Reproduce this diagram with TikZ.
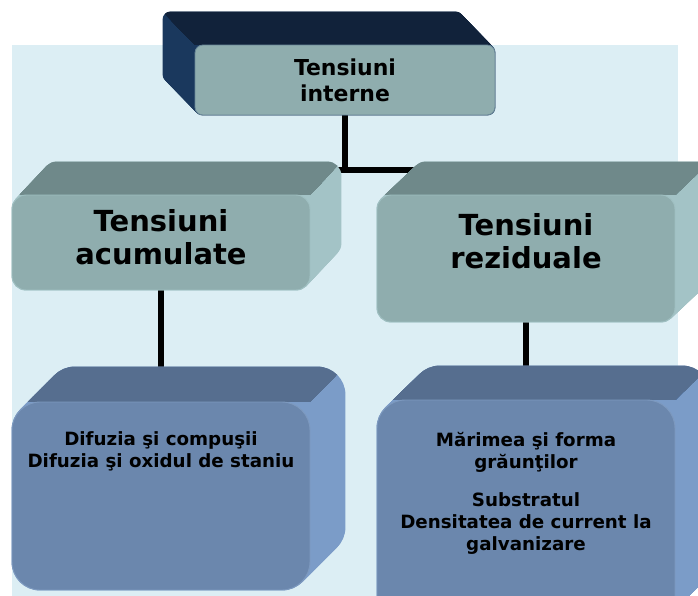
\documentclass[tikz,border=0pt]{standalone}
\usepackage{fontspec}
\setmainfont{DejaVu Sans}
\usepackage{xcolor}
\usetikzlibrary{calc}

\pgfdeclarelayer{bg}
\pgfdeclarelayer{depth}
\pgfsetlayers{bg,depth,main}

\definecolor{paneblue}{HTML}{DCEEF4}
\definecolor{facegray}{HTML}{8FADAE}
\definecolor{edgegray}{HTML}{6A8898}
\definecolor{navytop}{HTML}{11223A}
\definecolor{navyside}{HTML}{1A385D}
\definecolor{graytop}{HTML}{6F898A}
\definecolor{grayside}{HTML}{A3C3C6}
\definecolor{faceblue}{HTML}{6B87AD}
\definecolor{edgeblue}{HTML}{7D99BE}
\definecolor{bluetop}{HTML}{566E8F}
\definecolor{blueside}{HTML}{7B9CC8}

% node, dx, dy, top colour, side colour, radius
\newcommand{\boxdepth}[6]{%
  \foreach \k in {0,0.02,...,1.001}
    \fill[#5, rounded corners=#6] ($(#1.south west)+\k*(#2,#3)$) rectangle ($(#1.north east)+\k*(#2,#3)$);
  \begin{scope}
    \clip (#1.north west) -- ($(#1.north west)+(#2,#3)$) -- ($(#1.north east)+(#2,#3)$) -- (#1.north east) -- cycle;
    \foreach \k in {0,0.02,...,1.001}
      \fill[#4, rounded corners=#6] ($(#1.south west)+\k*(#2,#3)$) rectangle ($(#1.north east)+\k*(#2,#3)$);
  \end{scope}
}

\tikzset{
  face/.style={rounded corners=#1, line width=0.5pt, align=center, inner sep=0pt},
  headbox/.style={face=4.5pt, fill=facegray, draw=edgegray, minimum width=6cm,
    font=\bfseries\fontsize{12.5}{15}\selectfont},
  midbox/.style={face=8pt, fill=facegray, draw=grayside!80!facegray, minimum width=5.96cm,
    font=\bfseries\fontsize{16.5}{19}\selectfont},
  lowbox/.style={face=16pt, fill=faceblue, draw=edgeblue, minimum width=5.96cm,
    font=\bfseries\fontsize{10.4}{12.5}\selectfont},
  conn/.style={line width=3pt, black}
}

\begin{document}
\begin{tikzpicture}[x=0.02cm, y=-0.02cm]
\useasboundingbox (0,0) rectangle (698,596);

\node[headbox, minimum height=1.4cm] (intern) at (345,80) {Tensiuni\\interne};

\node[midbox, minimum height=1.9cm] (acum) at (161,242.5)
  {Tensiuni\\acumulate\rule[-6pt]{0pt}{6pt}};
\node[midbox, minimum height=2.54cm] (rezid) at (526,258.5)
  {Tensiuni\\reziduale\rule[-20pt]{0pt}{20pt}};

\node[lowbox, minimum height=3.76cm] (difuz) at (161,496)
  {Difuzia şi compuşii\\Difuzia şi oxidul de staniu\rule[-53pt]{0pt}{53pt}};
\node[lowbox, minimum height=4.5cm] (marime) at (526,512.5)
  {Mărimea şi forma\\grăunţilor\\[9pt]Substratul\\Densitatea de current la\\galvanizare\rule[-24pt]{0pt}{24pt}};

\begin{pgfonlayer}{bg}
\fill[white] (0,0) rectangle (698,596);
\fill[paneblue] (12,45) rectangle (678,596);

\coordinate (hbar) at (345,170);
\draw[conn] (intern.south) -- (hbar);
\draw[conn] (acum.north) |- (hbar);
\draw[conn] (rezid.north) |- (hbar);
\draw[conn] (acum.south) -- (difuz.north);
\draw[conn] (rezid.south) -- (marime.north);
\end{pgfonlayer}

\begin{pgfonlayer}{depth}
\boxdepth{intern}{-32}{-33}{navytop}{navyside}{4.5pt}
\boxdepth{acum}{31}{-33}{graytop}{grayside}{8pt}
\boxdepth{rezid}{35}{-33}{graytop}{grayside}{8pt}
\boxdepth{difuz}{35}{-35}{bluetop}{blueside}{16pt}
\boxdepth{marime}{35}{-34}{bluetop}{blueside}{16pt}
\end{pgfonlayer}
\end{tikzpicture}
\end{document}
